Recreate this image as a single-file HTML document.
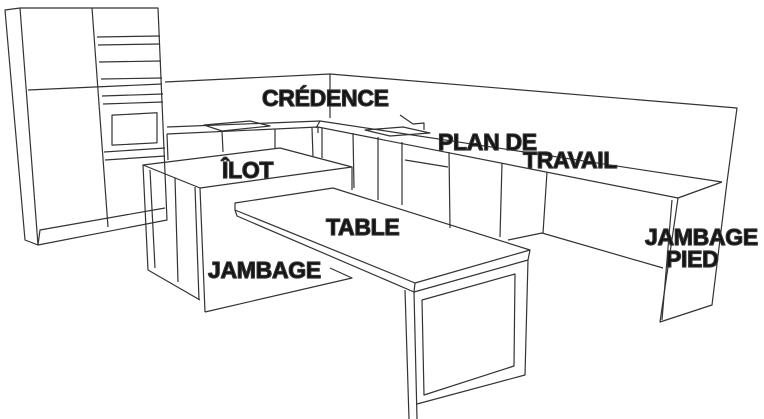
<!DOCTYPE html>
<html><head><meta charset="utf-8"><style>
html,body{margin:0;padding:0;background:#fff}
svg{display:block}
text{font-family:"Liberation Sans",Arial,sans-serif;font-weight:bold;font-size:23px;fill:#111;letter-spacing:-0.3px}
</style></head><body>
<svg width="764" height="419" viewBox="0 0 764 419" fill="none" stroke="#333" stroke-width="1.2" stroke-linejoin="round">
<!-- tall unit -->
<polyline points="20,8 5,10 25,240 38,245"/>
<polyline points="20,8 158,8 167,220 38,245 20,8"/>
<polyline points="38,245 40,230 165,208"/>
<line x1="92" y1="8" x2="108" y2="227"/>
<line x1="28" y1="90" x2="162" y2="84"/>
<line x1="97" y1="37" x2="160" y2="36"/>
<line x1="98" y1="45" x2="160" y2="44"/>
<line x1="99" y1="62" x2="161" y2="61"/>
<line x1="101" y1="79" x2="162" y2="78"/>
<line x1="102" y1="96" x2="163" y2="94"/>
<line x1="103" y1="104" x2="163" y2="102"/>
<rect x="112" y="114" width="45" height="30" transform="skewY(-3) translate(0,7)"/>
<line x1="104" y1="152" x2="165" y2="148"/>
<line x1="105" y1="160" x2="165" y2="156"/>
<!-- backsplash -->
<polyline points="165,82 330,74 737,108 727,182"/>
<line x1="330" y1="74" x2="330" y2="118"/>
<polyline points="167,127 320,121 722,182"/>
<polyline points="167,134 318,127 678,198"/>
<line x1="318" y1="127" x2="318" y2="133"/>
<line x1="320" y1="121" x2="316" y2="128"/>
<!-- hob -->
<polygon points="204,125 250,121 270,126 222,131"/>
<!-- sink -->
<polygon points="365,130 403,127 430,133 390,136"/>
<polyline points="400,115 413,124 424,123 424,130"/>
<!-- counter front / end -->
<polyline points="678,198 722,182"/>
<polyline points="678,198 660,322 712,305 727,182"/>
<line x1="672" y1="200" x2="662" y2="320"/>
<!-- base cabinets -->
<line x1="167" y1="134" x2="168" y2="160"/>
<line x1="222" y1="131" x2="223" y2="152"/>
<line x1="275" y1="129" x2="275" y2="148"/>
<line x1="312" y1="128" x2="313" y2="157"/>
<line x1="322" y1="128" x2="322" y2="158"/>
<line x1="353" y1="133" x2="354" y2="188"/>
<line x1="378" y1="137" x2="378" y2="200"/>
<line x1="402" y1="142" x2="402" y2="205"/>
<line x1="449" y1="152" x2="450" y2="228"/>
<line x1="502" y1="163" x2="500" y2="237"/>
<line x1="547" y1="172" x2="543" y2="233"/>
<polyline points="508,240 542,233 663,268"/>
<polyline points="405,160 448,167"/>
<!-- island -->
<polygon points="143,165 280,148 352,167 200,188"/>
<polyline points="143,165 148,270 200,300"/>
<polyline points="150,170 155,268"/>
<polyline points="175,178 178,282"/>
<line x1="200" y1="188" x2="205" y2="312"/>
<line x1="195" y1="187" x2="199" y2="300"/>
<polyline points="205,312 352,278 330,268"/>
<line x1="352" y1="167" x2="352" y2="190"/>
<!-- table -->
<polygon points="235,203 333,188 530,250 415,283 235,210"/>
<polyline points="235,210 237,216 414,292 528,260"/>
<line x1="415" y1="283" x2="414" y2="292"/>
<line x1="530" y1="250" x2="528" y2="260"/>
<line x1="405" y1="290" x2="409" y2="419"/>
<line x1="414" y1="292" x2="417" y2="419"/>
<polyline points="417,404 525,375 528,260"/>
<polygon points="422,300 515,274 514,366 424,395"/>
<!-- labels -->
<text x="262" y="106">CRÉDENCE</text>
<text x="222" y="178">ÎLOT</text>
<text x="438" y="150">PLAN DE</text>
<text x="523" y="168">TRAVAIL</text>
<text x="326" y="235">TABLE</text>
<text x="208" y="278">JAMBAGE</text>
<text x="645" y="245">JAMBAGE</text>
<text x="666" y="267">PIED</text>
</svg>
</body></html>
